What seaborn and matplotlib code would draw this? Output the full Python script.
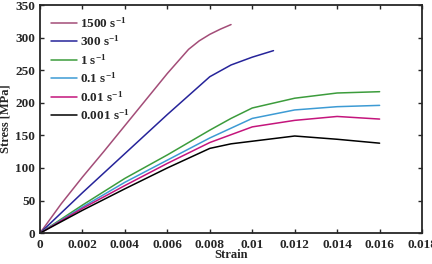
import matplotlib
matplotlib.use("Agg")
import matplotlib.pyplot as plt
import pandas as pd
import seaborn as sns

# strain-rate labels, in legend order
rates = ["1500 s$^{-1}$", "300 s$^{-1}$", "1 s$^{-1}$", "0.1 s$^{-1}$", "0.01 s$^{-1}$", "0.001 s$^{-1}$"]
colors = ["#a34d78", "#26249a", "#3c9c3c", "#3d9bd4", "#c4157c", "#000000"]

strain_1500 = [0, 0.001, 0.002, 0.003, 0.004, 0.005, 0.006, 0.007, 0.0075, 0.008, 0.0085, 0.009]
stress_1500 = [0, 45, 86, 125, 165, 205, 245, 282, 295, 305, 313, 320]

strain_300 = [0, 0.002, 0.004, 0.005, 0.006, 0.007, 0.008, 0.009, 0.010, 0.0105, 0.011]
stress_300 = [0, 62, 122, 152, 182, 211, 240, 258, 270, 275, 280]

strain_1 = [0, 0.002, 0.004, 0.006, 0.008, 0.009, 0.010, 0.012, 0.014, 0.016]
stress_1 = [0, 43, 84, 120, 158, 176, 192, 207, 215, 217]

strain_01 = [0, 0.002, 0.004, 0.006, 0.008, 0.010, 0.012, 0.014, 0.016]
stress_01 = [0, 40, 78, 112, 146, 176, 189, 194, 196]

strain_001 = [0, 0.002, 0.004, 0.006, 0.008, 0.010, 0.012, 0.014, 0.016]
stress_001 = [0, 38, 73, 107, 139, 163, 173, 179, 175]

strain_0001 = [0, 0.002, 0.004, 0.006, 0.008, 0.009, 0.010, 0.012, 0.014, 0.016]
stress_0001 = [0, 35, 68, 100, 130, 137, 141, 149, 144, 138]

series = [
    (strain_1500, stress_1500),
    (strain_300, stress_300),
    (strain_1, stress_1),
    (strain_01, stress_01),
    (strain_001, stress_001),
    (strain_0001, stress_0001),
]

rows = []
for rate, (xs, ys) in zip(rates, series):
    for x, y in zip(xs, ys):
        rows.append({"Strain": x, "Stress": y, "Rate": rate})
df = pd.DataFrame(rows)

sns.set_style("ticks")
plt.rcParams["font.family"] = ["Liberation Serif", "DejaVu Serif"]
plt.rcParams["font.weight"] = "bold"
plt.rcParams["mathtext.fontset"] = "custom"
plt.rcParams["mathtext.rm"] = "Liberation Serif:bold"
plt.rcParams["mathtext.default"] = "rm"

fig = plt.figure(figsize=(4.32, 2.64), dpi=100)
ax = fig.add_axes([0.0926, 0.117, 0.8844, 0.864])

sns.lineplot(data=df, x="Strain", y="Stress", hue="Rate", hue_order=rates,
             palette=colors, sort=False, linewidth=1.1, ax=ax)

ax.set_xlim(0, 0.018)
ax.set_ylim(0, 350)
ax.set_xticks([0, 0.002, 0.004, 0.006, 0.008, 0.01, 0.012, 0.014, 0.016, 0.018])
ax.set_xticklabels(["0", "0.002", "0.004", "0.006", "0.008", "0.01", "0.012", "0.014", "0.016", "0.018"])
ax.set_yticks(range(0, 351, 50))
ax.tick_params(direction="in", top=True, right=True, labelsize=9.5, length=3, width=1)
ax.tick_params(axis="x", pad=4)
for s in ax.spines.values():
    s.set_linewidth(1.3)
    s.set_visible(True)

ax.set_xlabel("Strain", fontsize=9, fontweight="bold", labelpad=-1)
ax.set_ylabel("Stress [MPa]", fontsize=9, fontweight="bold", labelpad=3)

leg = ax.legend(loc="upper left", frameon=False, fontsize=9.5, handlelength=2.0,
                handletextpad=0.2, labelspacing=0.3, borderaxespad=0.4)

fig.savefig("out.png", dpi=100)
